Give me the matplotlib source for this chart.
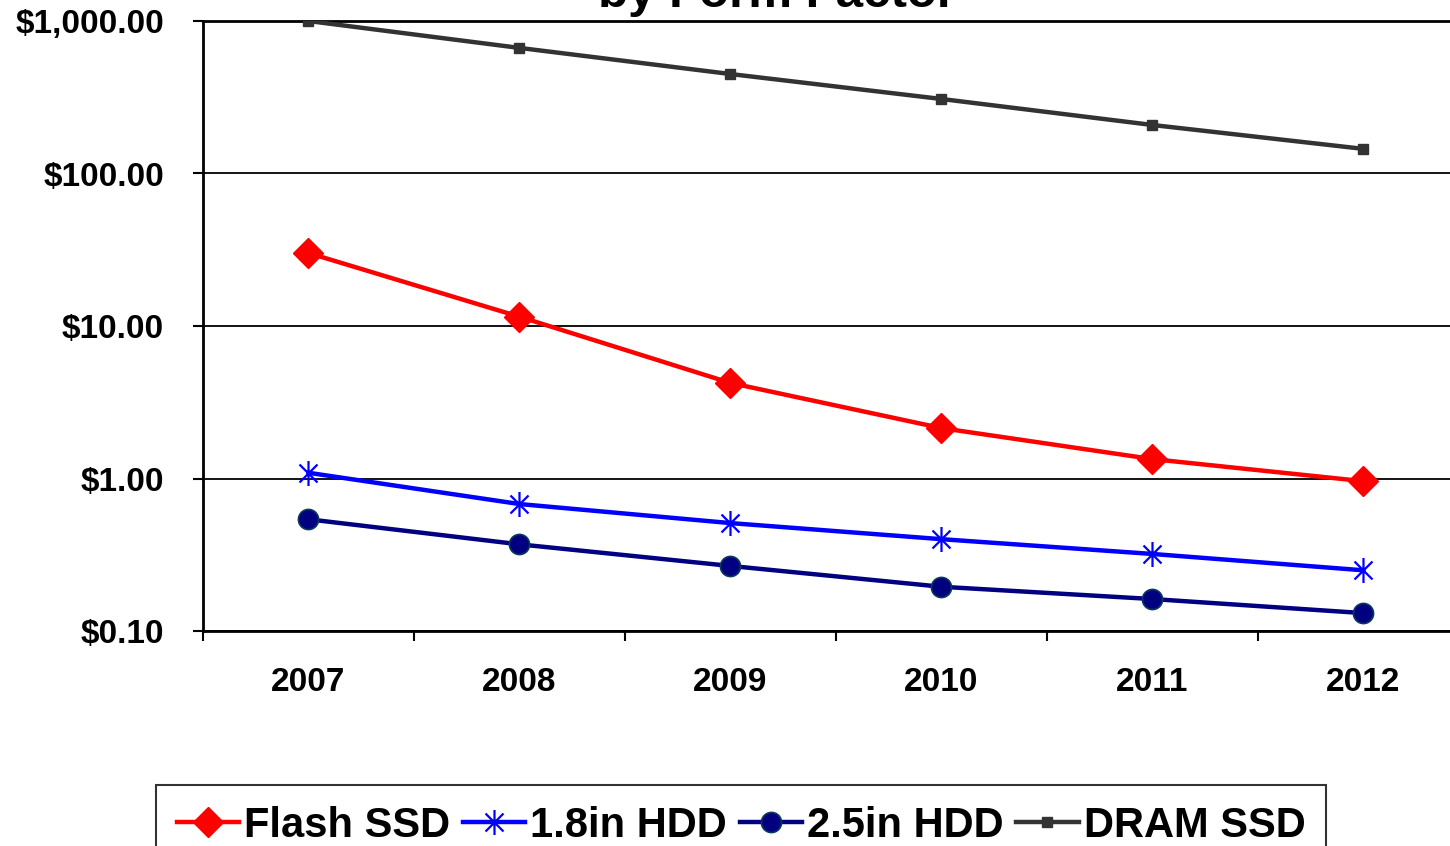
import matplotlib
matplotlib.use('Agg')
import matplotlib.pyplot as plt
from matplotlib.path import Path
from matplotlib.ticker import FixedLocator, FuncFormatter, NullLocator

plt.rcParams['font.family'] = ['Liberation Sans', 'DejaVu Sans']
plt.rcParams['font.weight'] = 'bold'

years = ['2007', '2008', '2009', '2010', '2011', '2012']
flash_ssd = [30.1, 11.5, 4.23, 2.14, 1.34, 0.96]
hdd_18 = [1.09, 0.68, 0.51, 0.40, 0.32, 0.25]
hdd_25 = [0.54, 0.37, 0.267, 0.195, 0.162, 0.131]
dram_ssd = [1000, 666, 449, 308, 208, 145]

# asterisk-style marker: vertical bar plus an X
star = Path([(0, -1), (0, 1), (-0.72, -0.72), (0.72, 0.72), (-0.72, 0.72), (0.72, -0.72)],
            [Path.MOVETO, Path.LINETO] * 3)

fig = plt.figure(figsize=(14.5, 8.46), dpi=100)
ax = fig.add_axes([203 / 1450, 1 - 631 / 846, 1247 / 1450, 610 / 846])

x = list(range(len(years)))
ax.plot(x, flash_ssd, color='#ff0000', lw=3.2, marker='D', ms=15,
        mfc='#ff0000', mec='#ff0000', label='Flash SSD', zorder=4)
ax.plot(x, hdd_18, color='#0000ff', lw=3.2, marker=star, ms=18, mew=1.6,
        mfc='none', mec='#0000ff', label='1.8in HDD', zorder=4)
ax.plot(x, hdd_25, color='#000080', lw=3.2, marker='o', ms=14.5,
        mfc='#000080', mec='#0b3a5c', mew=1.2, label='2.5in HDD', zorder=4)
ax.plot(x, dram_ssd, color='#333333', lw=3.2, marker='s', ms=7,
        mfc='#333333', mec='#333333', label='DRAM SSD', zorder=4)

ax.set_yscale('log')
ax.set_ylim(0.1, 1000)
ax.set_xlim(-0.5, 5.41)

ax.yaxis.set_major_locator(FixedLocator([0.1, 1, 10, 100, 1000]))
ax.yaxis.set_minor_locator(NullLocator())
ax.yaxis.set_major_formatter(FuncFormatter(lambda v, p: '${:,.2f}'.format(v)))
ax.grid(axis='y', which='major', color='black', lw=1.3)

# category boundaries carry the ticks, centres carry the labels
ax.xaxis.set_major_locator(FixedLocator([i - 0.5 for i in range(7)]))
ax.xaxis.set_minor_locator(FixedLocator(x))
ax.xaxis.set_major_formatter(FuncFormatter(lambda v, p: ''))
ax.set_xticks(x, years, minor=True)

ax.tick_params(axis='y', which='major', length=7, width=1.5, direction='out',
               pad=21, labelsize=24)
ax.tick_params(axis='x', which='major', length=7, width=1.5, direction='out')
ax.tick_params(axis='x', which='minor', length=0, pad=26, labelsize=24)

ax.spines['right'].set_visible(False)
for side in ['left', 'bottom', 'top']:
    ax.spines[side].set_linewidth(2)
    ax.spines[side].set_color('black')

fig.text(777 / 1450, 1 - 7 / 846, 'by Form Factor', ha='center', va='baseline',
         fontsize=35.5, fontweight='bold')

leg = fig.legend(loc='upper center', bbox_to_anchor=(741 / 1450, 1 - 785 / 846),
                 ncol=4, fontsize=30, frameon=True, fancybox=False,
                 handlelength=1.5, handletextpad=0.12, columnspacing=0.3,
                 borderpad=0.5, borderaxespad=0)
leg.get_frame().set_edgecolor('black')
leg.get_frame().set_linewidth(1.5)

fig.savefig('out.png', dpi=100)
